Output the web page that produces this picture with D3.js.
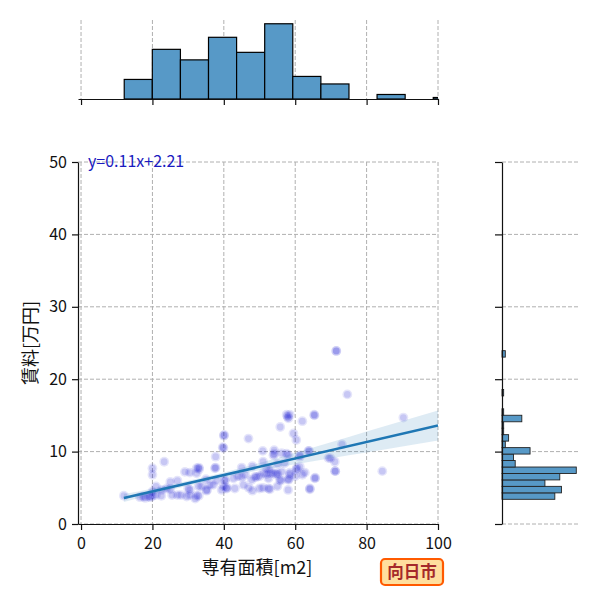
<!DOCTYPE html>
<html><head><meta charset="utf-8">
<script src="https://cdn.jsdelivr.net/npm/d3@7"></script>
<style>body{margin:0;background:#fff}svg{display:block}text{font-family:"Noto Sans CJK JP","Noto Sans",sans-serif}</style>
</head><body><svg id="c" width="600" height="600"></svg>
<script>
// ---- data ----
const areas = [12,16.5,17.5,18,19,19.5,20,21,22.5,25.5,27,28,29.6,30.5,32.4,32,33,
 20,21,22.6,24,25,30,30.5,32.9,33.8,35.2,35.2,36.1,37,39.4,39.9,40.8,40.8,43.1,45.5,47,48,50,51,52.5,52.9,55,64.1,64.1,58,
 20,29.1,30.5,32.4,33.1,32.4,33,37.7,37.5,40.3,40.3,42.7,45,47.8,48.7,49.2,51,52,53,54,55,50,46,44,52.5,55.7,56,58.1,58.1,58.5,54.8,56.2,58.5,60.4,62.7,65.5,65.6,60,62,71.2,71.2,84.4,25,27,35,38,
 20,23.3,37.7,52,52.9,60.4,61.3,51,50.9,54.1,54.1,53.9,56.2,57.6,58.1,61.3,61.3,63.7,63.9,69.3,69.9,71.1,55,48,45,57,
 39.9,39.7,40.1,40,46.9,55.8,59.5,60.3,57.6,58.1,58.5,57.9,62,65.3,65.4,73.1,74.6,90.3,71.5,71.5];
const rents = [3.9,3.7,3.8,3.6,3.8,3.7,3.9,4.0,3.9,4.0,4.0,4.0,3.8,4.0,3.9,3.5,3.9,
 4.5,5.2,4.7,4.9,4.8,4.9,4.7,5.2,5.2,4.7,4.6,5.4,5.4,4.7,5.2,5.0,4.9,4.9,5.4,5.0,4.6,4.9,5.0,4.9,4.8,5.2,4.8,4.9,4.7,
 6.8,7.2,7.1,7.0,7.6,7.7,7.8,7.8,7.7,6.1,6.0,6.3,6.5,6.1,6.5,6.5,7.0,6.9,7.0,7.0,7.0,6.6,6.8,6.6,6.3,6.1,6.0,6.1,6.2,6.8,6.8,7.2,7.1,7.5,7.1,6.3,6.4,6.6,6.8,7.3,7.3,7.3,5.8,6.0,6.2,6.0,
 7.7,8.6,9.3,7.7,7.5,7.7,7.9,8.6,10.1,10.2,9.7,9.5,9.8,9.7,9.5,9.5,9.3,10.1,10.1,9.1,9.1,8.6,8.3,8.0,7.8,8.4,
 10.5,10.6,12.3,12.2,11.8,13.4,12.5,11.6,15.1,14.6,15.1,14.8,14.2,15.1,15.0,11.0,17.9,14.7,23.9,23.9];
const areaBinEdges = [12.1,19.97,27.84,35.71,43.58,51.45,59.32,67.19,75.06,82.93,90.8,98.67,106.54];
const areaBinCounts = [13,33,26,41,31,50,15,10,0,3,0,1];
const rentBinEdges = [3.41,4.30,5.20,6.09,6.98,7.87,8.77,9.66,10.55,11.45,12.34,13.23,14.12,15.02,15.91,16.80,17.69,18.58,19.48,20.37,21.26,22.15,23.05,23.94];
const rentBinCounts = [32,36,26,35,45,8,7,17,2,4,1,1,12,1,0,0,1,0,0,0,0,0,2];
const slope = 0.114, intercept = 2.21;
const fitRange = [12, 100];
const ciX = [12,20,30,40,50,60,70,80,90,100];
const ciHalf = [0.55,0.42,0.35,0.35,0.5,0.8,1.1,1.45,1.75,2.07];
const xTicks = [0,20,40,60,80,100];
const yTicks = [0,10,20,30,40,50];
const xLabel = "専有面積[m2]", yLabel = "賃料[万円]", cityLabel = "向日市";

// ---- drawing ----
const svg = d3.select("#c");
const x = d3.scaleLinear([-0.85,100],[78,438]);
const y = d3.scaleLinear([0,50],[524,162]);
const yTop = d3.scaleLinear([0,52.5],[99,20]);
const xRight = d3.scaleLinear([0,47.25],[502,580]);
const gridStyle = s => s.attr("stroke","#b0b0b0").attr("stroke-width",1).attr("stroke-dasharray","4,2");
const histFill = "#5799c7";

const defs = svg.append("defs");
defs.append("clipPath").attr("id","clipMain").append("rect").attr("x",78).attr("y",162).attr("width",360).attr("height",362);
defs.append("clipPath").attr("id","clipTop").append("rect").attr("x",78).attr("y",10).attr("width",360).attr("height",89);

// main grid
svg.append("g").selectAll("line").data(xTicks).join("line")
  .attr("x1",d=>x(d)).attr("x2",d=>x(d)).attr("y1",162).attr("y2",524).call(gridStyle);
svg.append("g").selectAll("line").data(yTicks).join("line")
  .attr("x1",78).attr("x2",438).attr("y1",d=>y(d)).attr("y2",d=>y(d)).call(gridStyle);

// scatter
const pts = areas.map((a,i)=>({a, r:rents[i]}));
const sc = svg.append("g").attr("clip-path","url(#clipMain)");
sc.selectAll("circle.o").data(pts).join("circle").attr("class","o")
  .attr("cx",d=>x(d.a)).attr("cy",d=>y(d.r)).attr("r",4.9)
  .attr("fill","rgb(0,0,205)").attr("opacity",0.1);
sc.selectAll("circle.i").data(pts).join("circle").attr("class","i")
  .attr("cx",d=>x(d.a)).attr("cy",d=>y(d.r)).attr("r",3.4)
  .attr("fill","rgb(0,0,205)").attr("opacity",0.13);

// CI band + line
const band = ciX.map((cx,i)=>({cx, lo: slope*cx+intercept-ciHalf[i], hi: slope*cx+intercept+ciHalf[i]}));
sc.append("path").datum(band)
  .attr("d", d3.area().x(d=>x(d.cx)).y0(d=>y(d.lo)).y1(d=>y(d.hi)).curve(d3.curveMonotoneX))
  .attr("fill","#1f77b4").attr("opacity",0.15);
sc.append("path").datum(fitRange)
  .attr("d", d3.line().x(d=>x(d)).y(d=>y(slope*d+intercept)))
  .attr("stroke","#1f77b4").attr("stroke-width",2.6).attr("fill","none");

// main axes
const ax = svg.append("g").attr("transform","translate(0,524)")
  .call(d3.axisBottom(x).tickValues(xTicks).tickSize(6).tickSizeOuter(0).tickPadding(8));
const ay = svg.append("g").attr("transform","translate(78,0)")
  .call(d3.axisLeft(y).tickValues(yTicks).tickSize(6).tickSizeOuter(0).tickPadding(5));
[ax,ay].forEach(g=>{
  g.selectAll("text").attr("font-size",16).attr("fill","#111").attr("font-family",'"Noto Sans CJK JP"');
  g.selectAll("path,line").attr("stroke","#111").attr("stroke-width",1.2);
});

// equation
svg.append("text").attr("x",88).attr("y",167).attr("font-size",16).attr("fill","#1a1ac0")
  .text(`y=${slope.toFixed(2)}x+${intercept.toFixed(2)}`);

// labels
svg.append("text").attr("x",257).attr("y",574).attr("text-anchor","middle").attr("font-size",18).attr("fill","#111").text(xLabel);
svg.append("text").attr("transform","translate(37,343) rotate(-90)").attr("text-anchor","middle").attr("font-size",18).attr("fill","#111").text(yLabel);

// top histogram
svg.append("g").selectAll("line").data(xTicks).join("line")
  .attr("x1",d=>x(d)).attr("x2",d=>x(d)).attr("y1",20).attr("y2",99).call(gridStyle);
const topBins = areaBinCounts.map((c,i)=>({x0:areaBinEdges[i], x1:areaBinEdges[i+1], c})).filter(d=>d.c>0);
svg.append("g").attr("clip-path","url(#clipTop)").selectAll("rect").data(topBins).join("rect")
  .attr("x",d=>x(d.x0)).attr("width",d=>x(d.x1)-x(d.x0))
  .attr("y",d=>yTop(d.c)).attr("height",d=>yTop(0)-yTop(d.c))
  .attr("fill",histFill).attr("stroke","#000").attr("stroke-width",1.2);
const at = svg.append("g").attr("transform","translate(0,99)")
  .call(d3.axisBottom(x).tickValues(xTicks).tickSize(6).tickSizeOuter(0).tickFormat(""));
at.selectAll("path,line").attr("stroke","#111").attr("stroke-width",1.2);

// right histogram
svg.append("g").selectAll("line").data(yTicks).join("line")
  .attr("x1",502).attr("x2",580).attr("y1",d=>y(d)).attr("y2",d=>y(d)).call(gridStyle);
const rBins = rentBinCounts.map((c,i)=>({y0:rentBinEdges[i], y1:rentBinEdges[i+1], c})).filter(d=>d.c>0);
svg.append("g").selectAll("rect").data(rBins).join("rect")
  .attr("x",xRight(0)).attr("width",d=>xRight(d.c)-xRight(0))
  .attr("y",d=>y(d.y1)).attr("height",d=>y(d.y0)-y(d.y1))
  .attr("fill",histFill).attr("stroke","#222").attr("stroke-width",0.9);
const ar = svg.append("g").attr("transform","translate(502,0)")
  .call(d3.axisLeft(y).tickValues(yTicks).tickSize(7).tickSizeOuter(0).tickFormat(""));
ar.selectAll("path,line").attr("stroke","#111").attr("stroke-width",1.2);

// city label box
const gb = svg.append("g");
gb.append("rect").attr("x",381).attr("y",559).attr("width",62).attr("height",26).attr("rx",4)
  .attr("fill","#ffdf9e").attr("stroke","#ff5a00").attr("stroke-width",2.2);
gb.append("text").attr("x",412).attr("y",578).attr("text-anchor","middle").attr("font-size",16.5)
  .attr("font-weight","bold").attr("fill","#a52a2a").text(cityLabel);
</script></body></html>
